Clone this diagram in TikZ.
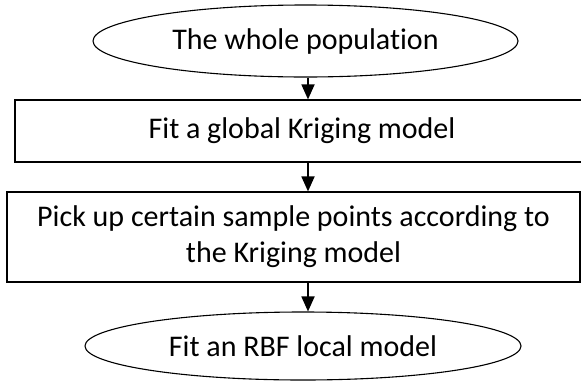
\documentclass[tikz,border=0pt]{standalone}
\usepackage{fontspec}
\setmainfont[Ligatures=NoCommon]{Carlito}
\usetikzlibrary{shapes.geometric,arrows.meta}
\begin{document}
\begin{tikzpicture}[x=1pt,y=-1pt,
  every node/.style={font=\fontsize{30}{37}\selectfont, text=black},
  oval/.style={ellipse, draw, line width=1.1pt, inner sep=0pt},
  stepbox/.style={rectangle, draw, line width=1.2pt, inner sep=0pt, align=center},
  flow/.style={line width=1.8pt, -{Triangle[length=15pt,width=13pt]}}]
  \useasboundingbox (0,0) rectangle (581,381);
  \fill[white] (0,0) rectangle (581,381);

  \node[oval, minimum width=425, minimum height=72] (pop) at (305.5,41) {The whole population};
  \node[stepbox, minimum width=574, minimum height=62] (glob) at (302,131) {Fit a global Kriging model};
  \node[stepbox, minimum width=573, minimum height=90] (pick) at (293.5,237)
    {Pick up certain sample points according to\\[-1pt] the Kriging model};
  \node[oval, minimum width=436, minimum height=68] (rbf) at (303,346) {Fit an RBF local model};

  \coordinate (ax) at (308,0);
  \draw[flow] (pop.south -| ax) -- (glob.north -| ax);
  \draw[flow] (glob.south -| ax) -- (pick.north -| ax);
  \draw[flow] (pick.south -| ax) -- (rbf.north -| ax);
\end{tikzpicture}
\end{document}
